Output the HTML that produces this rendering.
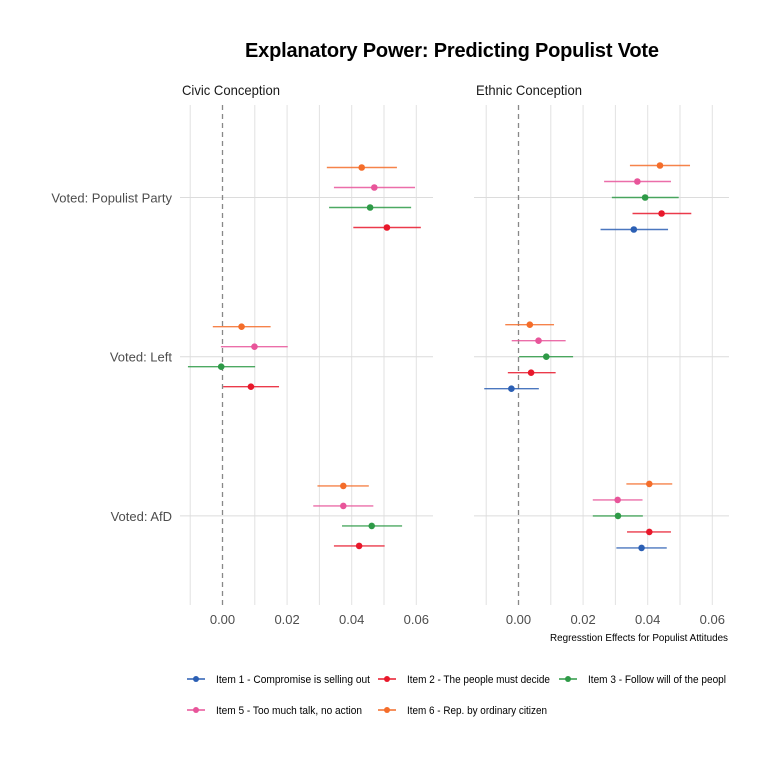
<!DOCTYPE html>
<html><head><meta charset="utf-8"><style>
body{margin:0;background:#fff}
svg text{font-family:"Liberation Sans",Arial,sans-serif}
</style></head><body>
<svg id="c" width="768" height="768" viewBox="0 0 768 768" xmlns="http://www.w3.org/2000/svg">
<text x="452" y="57" text-anchor="middle" font-size="20" font-weight="bold" fill="#000" textLength="414">Explanatory Power: Predicting Populist Vote</text>
<g id="g"></g>
</svg>
<script>
const groups = ["Voted: Populist Party","Voted: Left","Voted: AfD"];
const items = ["Item 1 - Compromise is selling out","Item 2 - The people must decide","Item 3 - Follow will of the peopl","Item 5 - Too much talk, no action","Item 6 - Rep. by ordinary citizen"];
const colors = ["#2b5fb4","#e8182b","#2e9a47","#e8559a","#f46d2a"];
const ticks = [0,0.02,0.04,0.06];
const panels = ["Civic Conception","Ethnic Conception"];
const civicEst = [[null,0.0509,0.0457,0.0470,0.0431],[null,0.0088,-0.0004,0.0099,0.0059],[null,0.0423,0.0462,0.0374,0.0374]];
const civicLo  = [[null,0.0405,0.0330,0.0345,0.0323],[null,0.0002,-0.0107,-0.0005,-0.0030],[null,0.0345,0.0370,0.0281,0.0294]];
const civicHi  = [[null,0.0614,0.0584,0.0596,0.0540],[null,0.0175,0.0101,0.0202,0.0149],[null,0.0502,0.0556,0.0467,0.0453]];
const ethEst = [[0.0357,0.0443,0.0392,0.0368,0.0438],[-0.0022,0.0039,0.0086,0.0062,0.0035],[0.0381,0.0405,0.0308,0.0307,0.0405]];
const ethLo  = [[0.0254,0.0353,0.0289,0.0265,0.0345],[-0.0106,-0.0033,0.0002,-0.0021,-0.0041],[0.0303,0.0336,0.0230,0.0230,0.0334]];
const ethHi  = [[0.0463,0.0535,0.0496,0.0472,0.0531],[0.0063,0.0115,0.0169,0.0146,0.0110],[0.0459,0.0472,0.0385,0.0384,0.0476]];

const NS="http://www.w3.org/2000/svg";
const G=document.getElementById('g');
function mk(t,a,p){const e=document.createElementNS(NS,t);for(const k in a)e.setAttribute(k,a[k]);(p||G).appendChild(e);return e;}
const panelX=[{x0:180,x1:433,zero:222.5,tw:98},{x0:474,x1:729,zero:518.5,tw:106}];
const kScale=3230;
const yScale=i=>197.5+i*159.2;
const yTop=105,yBot=605;

panels.forEach((pn,pi)=>{
  const P=panelX[pi];
  const xs=v=>P.zero+v*kScale;
  const pg=mk('g',{});
  
  
  for(let v=-0.01;v<=0.0651;v+=0.01){
    if(Math.abs(v)<1e-9)continue;
    const gl=mk('line',{x1:xs(v),x2:xs(v),y1:yTop,y2:yBot,stroke:'#e2e2e2','stroke-width':1},pg);
    
    
  }
  groups.forEach((g,gi)=>{
    const hl=mk('line',{x1:P.x0,x2:P.x1,y1:yScale(gi),y2:yScale(gi),stroke:'#dcdcdc','stroke-width':1},pg);
    
    
  });
  const zl=mk('line',{x1:xs(0),x2:xs(0),y1:yTop,y2:yBot,stroke:'#888','stroke-width':1.3,'stroke-dasharray':'5,4'},pg);
  
  
  ticks.forEach(t=>{
    const tl=mk('text',{x:xs(t),y:624,'text-anchor':'middle','font-size':13,fill:'#4d4d4d'},pg);
    tl.textContent=t.toFixed(2);
    
    
  });
  const ft=mk('text',{x:P.x0+2,y:95,'font-size':14,fill:'#1a1a1a',textLength:P.tw,lengthAdjust:'spacingAndGlyphs'},pg);
  ft.textContent=pn;
  
  
  const est=pi?ethEst:civicEst, lo=pi?ethLo:civicLo, hi=pi?ethHi:civicHi;
  groups.forEach((g,gi)=>{
    const present=[];
    for(let i=0;i<5;i++) if(est[gi][i]!==null) present.push(i);
    const n=present.length, step=pi?16:20;
    present.forEach((i,j)=>{
      const y=yScale(gi)+(n-1-j-(n-1)/2)*step;
      const ln=mk('line',{x1:xs(lo[gi][i]),x2:xs(hi[gi][i]),y1:y,y2:y,stroke:colors[i],'stroke-width':1.4,'stroke-opacity':0.85},pg);
      
      
      const c=mk('circle',{cx:xs(est[gi][i]),cy:y,r:3.3,fill:colors[i]},pg);
      
      
    });
  });
});
groups.forEach((g,gi)=>{
  const t=mk('text',{x:172,y:yScale(gi)+5,'text-anchor':'end','font-size':13,fill:'#4d4d4d'});
  t.textContent=g;
  
  
});
const xt=mk('text',{x:728,y:641,'text-anchor':'end','font-size':10.5,fill:'#000',textLength:178,lengthAdjust:'spacingAndGlyphs'});
xt.textContent='Regresstion Effects for Populist Attitudes';


const legPos=[[196,679,154],[387,679,143],[568,679,138],[196,710,146],[387,710,140]];
items.forEach((it,i)=>{
  const [x,y,w]=legPos[i];
  const lg=mk('g',{});
  
  
  mk('line',{x1:x-9,x2:x+9,y1:y,y2:y,stroke:colors[i],'stroke-width':1.4},lg);
  mk('circle',{cx:x,cy:y,r:3,fill:colors[i]},lg);
  const t=mk('text',{x:x+20,y:y+4,'font-size':11,fill:'#000',textLength:w,lengthAdjust:'spacingAndGlyphs'},lg);
  t.textContent=it;
});
</script>
</body></html>
